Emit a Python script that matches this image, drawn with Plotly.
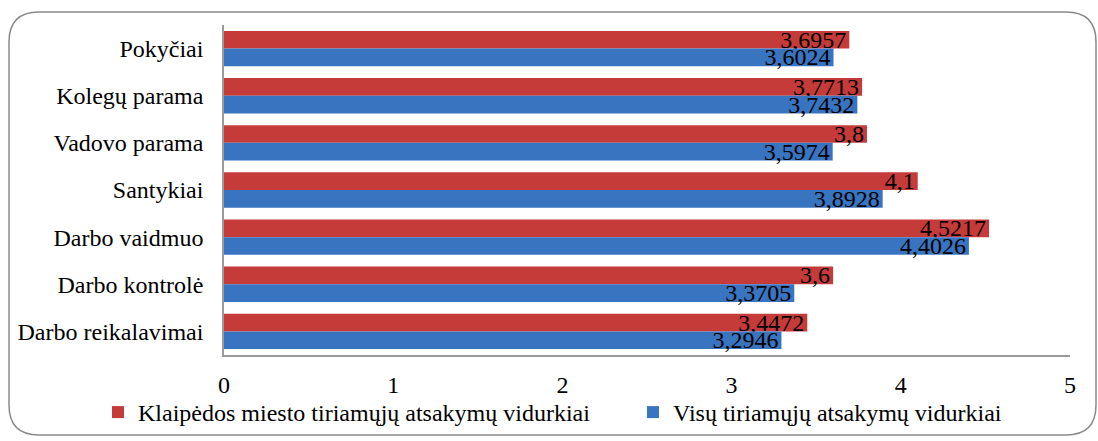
import plotly.graph_objects as go

categories = ["Pokyčiai", "Kolegų parama", "Vadovo parama", "Santykiai",
              "Darbo vaidmuo", "Darbo kontrolė", "Darbo reikalavimai"]
klaipeda = [3.6957, 3.7713, 3.8, 4.1, 4.5217, 3.6, 3.4472]
visu = [3.6024, 3.7432, 3.5974, 3.8928, 4.4026, 3.3705, 3.2946]
series_names = ["Klaipėdos miesto tiriamųjų atsakymų vidurkiai",
                "Visų tiriamųjų atsakymų vidurkiai"]
x_ticks = [0, 1, 2, 3, 4, 5]

FONT = "Times New Roman"
W, H = 1098, 441
L, R, T, B = 224, 28, 25, 86
pw, ph = W - L - R, H - T - B

fig = go.Figure()
for name, vals, col in [(series_names[0], klaipeda, "#C53B3A"),
                        (series_names[1], visu, "#3874C0")]:
    fig.add_trace(go.Bar(
        y=categories, x=vals, name=name, orientation="h",
        marker=dict(color=col, line=dict(width=0)),
        texttemplate="%{x}", textposition="inside", insidetextanchor="end",
        constraintext="none", cliponaxis=False,
        textfont=dict(family=FONT, size=24, color="black"),
    ))

def px_x(p):
    return (p - L) / pw

def px_y(p):
    return (T + ph - p) / ph

x0, x1, y0, y1, r = 9, 1096, 12, 435, 30
rx, ry = r / pw, r / ph
X0, X1, Y0, Y1 = px_x(x0), px_x(x1), px_y(y0), px_y(y1)
path = (f"M {X0+rx} {Y0} L {X1-rx} {Y0} Q {X1} {Y0} {X1} {Y0-ry} "
        f"L {X1} {Y1+ry} Q {X1} {Y1} {X1-rx} {Y1} "
        f"L {X0+rx} {Y1} Q {X0} {Y1} {X0} {Y1+ry} "
        f"L {X0} {Y0-ry} Q {X0} {Y0} {X0+rx} {Y0} Z")

fig.update_layout(
    width=W, height=H,
    margin=dict(l=L, r=R, t=T, b=B, autoexpand=False),
    paper_bgcolor="white", plot_bgcolor="white",
    separators=", ",
    barmode="group", bargap=0.25, bargroupgap=0,
    font=dict(family=FONT, size=24, color="black"),
    showlegend=True,
    legend=dict(orientation="h", x=px_x(98), xanchor="left",
                y=px_y(390), yanchor="top",
                font=dict(family=FONT, size=24, color="black"),
                entrywidth=490, entrywidthmode="pixels",
                bgcolor="rgba(0,0,0,0)"),
    shapes=[dict(type="path", path=path, xref="paper", yref="paper",
                 line=dict(color="#8a8a8a", width=1.5), layer="below")],
)
fig.update_xaxes(range=[0, 5], tickvals=x_ticks, showgrid=False, zeroline=False,
                 showline=True, linecolor="#9a9a9a", linewidth=1.5,
                 ticks="", ticklabelstandoff=7, automargin=False,
                 tickfont=dict(family=FONT, size=24))
fig.update_yaxes(autorange="reversed", showgrid=False, showline=True,
                 linecolor="#9a9a9a", linewidth=1.5, ticks="",
                 ticklabelstandoff=14, automargin=False,
                 tickfont=dict(family=FONT, size=24))

fig.write_html("out.html", config={"displayModeBar": False},
               post_script="document.body.style.margin='0';")
